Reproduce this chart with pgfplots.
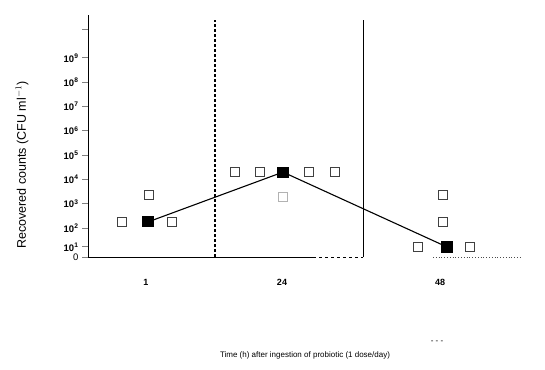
\documentclass[border=0pt]{standalone}
\usepackage{pgfplots}
\pgfplotsset{compat=1.18}
\usepackage{fontspec}
\setmainfont{Liberation Sans}
\begin{document}
\begin{tikzpicture}
\begin{axis}[
  at={(0pt,0pt)}, anchor=south west, scale only axis,
  width=437pt, height=242pt,
  xmin=88, xmax=525, ymin=0.807, ymax=10.765,
  axis y line*=left, axis x line*=bottom,
  x axis line style={draw=none},
  y axis line style={line width=1pt},
  clip=false,
  tick align=outside, major tick length=6pt,
  ytick={0.807,1.22,2,3,4,5,6,7,8,9,10.15},
  yticklabels={0,$\mathbf{10^1}$,$\mathbf{10^2}$,$\mathbf{10^3}$,$\mathbf{10^4}$,$\mathbf{10^5}$,$\mathbf{10^6}$,$\mathbf{10^7}$,$\mathbf{10^8}$,$\mathbf{10^9}$,{}},
  ytick style={line width=1pt},
  yticklabel style={font=\fontsize{9.5}{9.5}\selectfont},
  xtick={146,282,440},
  xticklabels={1,24,48},
  xtick style={draw=none},
  xticklabel style={font=\bfseries\fontsize{9}{9}\selectfont, yshift=-13pt},
]
% x axis line (solid, then broken as in the scan)
\draw[line width=1pt] (axis cs:88,0.807) -- (axis cs:313,0.807);
\draw[line width=1pt, dashed] (axis cs:313,0.807) -- (axis cs:363,0.807);
\draw[line width=0.8pt, dotted, black!70] (axis cs:433,0.807) -- (axis cs:522,0.807);
% vertical separators
\draw[line width=1.6pt, densely dashed] (axis cs:215,0.807) -- (axis cs:215,10.56);
\draw[line width=1pt] (axis cs:363,0.807) -- (axis cs:363,10.56);
% means
\addplot[black, line width=1.1pt, mark=square*, mark size=5pt]
  coordinates {(148,2.25) (283,4.30) (447,1.22)};
% individual values
\addplot[only marks, mark=square, mark size=4.3pt,
  mark options={draw=black!75, line width=1pt}]
  coordinates {(122,2.25) (172,2.25) (149,3.36)
               (235,4.30) (260,4.30) (309,4.30) (335,4.30)
               (418,1.22) (470,1.22) (443,2.25) (443,3.36)};
\addplot[only marks, mark=square, mark size=4.3pt,
  mark options={draw=black!30, line width=0.8pt}]
  coordinates {(283,3.28)};
\end{axis}
\useasboundingbox (-88pt,-112pt) rectangle (457pt,257pt);
\node[rotate=90, font=\fontsize{12.5}{12.5}\selectfont] at (-66pt,92pt) {Recovered counts (CFU ml$^{-1}$)};
\node[font=\fontsize{8}{8}\selectfont] at (217pt,-98pt) {Time (h) after ingestion of probiotic (1 dose/day)};
\node[font=\fontsize{8}{8}\selectfont] at (349pt,-85pt) {- - -};
\end{tikzpicture}
\end{document}
